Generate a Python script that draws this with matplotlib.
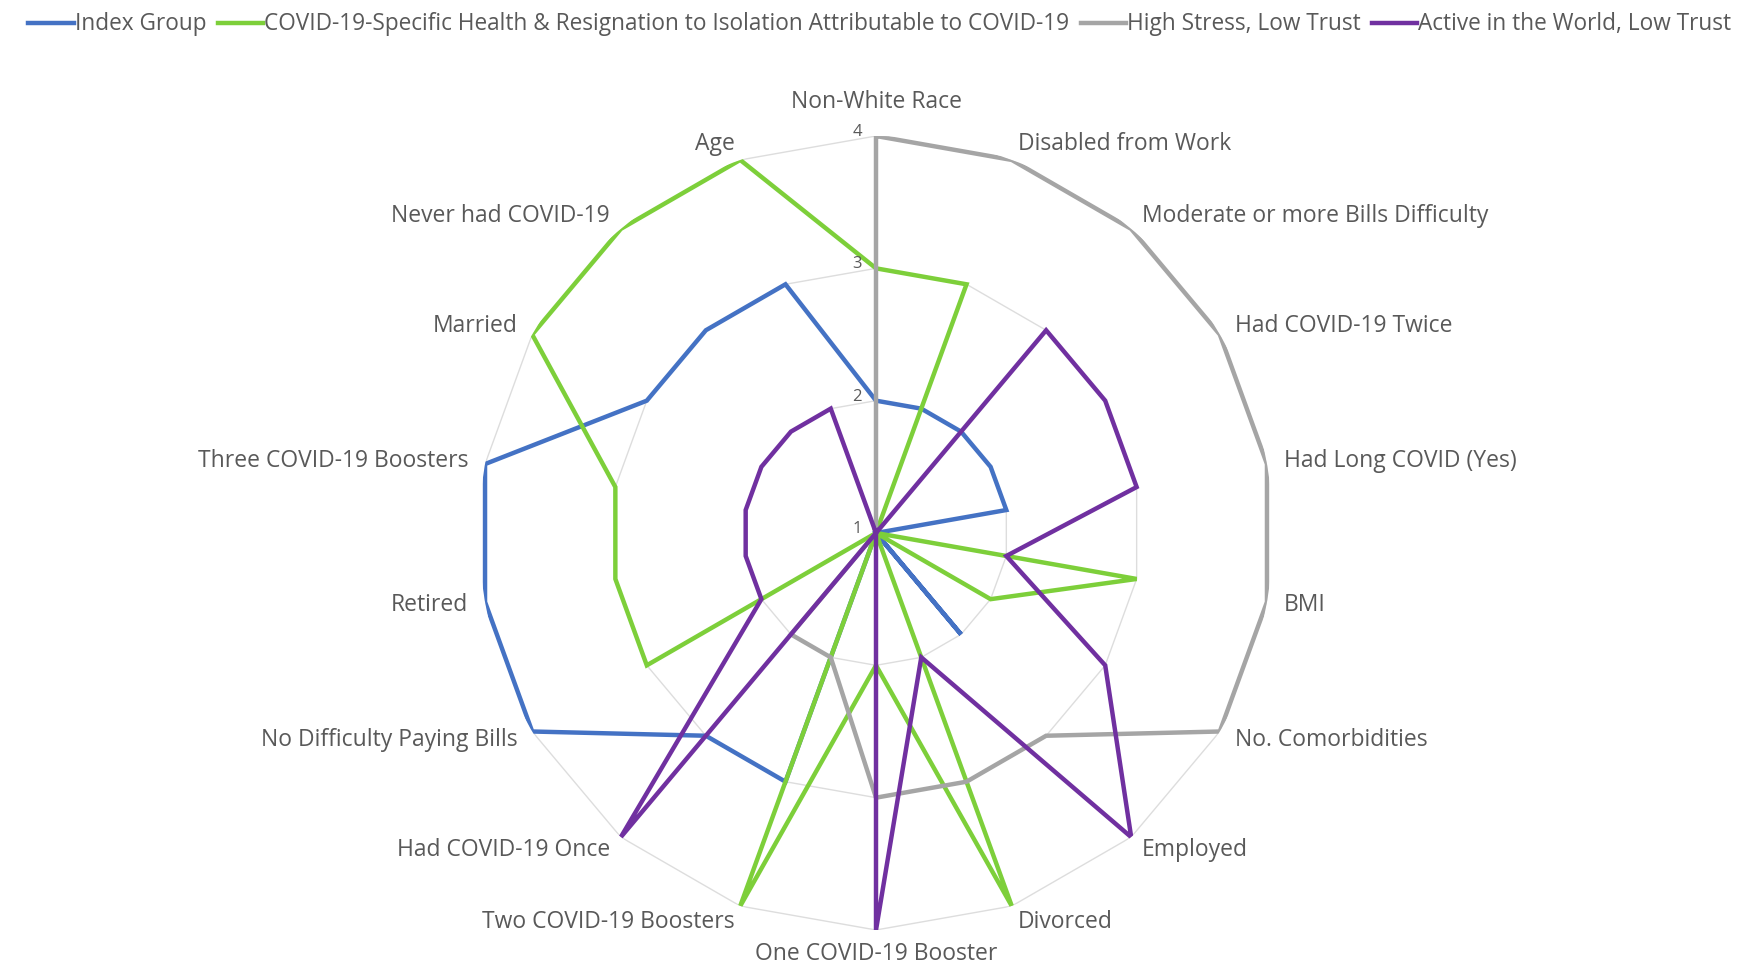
import numpy as np
import matplotlib
matplotlib.use("Agg")
import matplotlib.pyplot as plt
from matplotlib.lines import Line2D

categories = [
    "Non-White Race", "Disabled from Work", "Moderate or more Bills Difficulty",
    "Had COVID-19 Twice", "Had Long COVID (Yes)", "BMI", "No. Comorbidities",
    "Employed", "Divorced", "One COVID-19 Booster", "Two COVID-19 Boosters",
    "Had COVID-19 Once", "No Difficulty Paying Bills", "Retired",
    "Three COVID-19 Boosters", "Married", "Never had COVID-19", "Age",
]
series_names = [
    "Index Group",
    "COVID-19-Specific Health & Resignation to Isolation Attributable to COVID-19",
    "High Stress, Low Trust",
    "Active in the World, Low Trust",
]
index_group = [2, 2, 2, 2, 2, 1, 1, 2, 1, 1, 3, 3, 4, 4, 4, 3, 3, 3]
covid_specific = [3, 3, 1, 1, 1, 3, 2, 1, 4, 2, 4, 1, 3, 3, 3, 4, 4, 4]
high_stress = [4, 4, 4, 4, 4, 4, 4, 3, 3, 3, 2, 2, 1, 1, 1, 1, 1, 1]
active_world = [1, 1, 3, 3, 3, 2, 3, 4, 2, 4, 1, 4, 2, 2, 2, 2, 2, 2]
tick_values = [1, 2, 3, 4]

colors = ["#4472C4", "#7DCF3A", "#A5A5A5", "#7030A0"]
all_series = [index_group, covid_specific, high_stress, active_world]

plt.rcParams['font.family'] = ['Open Sans', 'DejaVu Sans']
text_color = "#595959"

W, H = 1760, 966
fig = plt.figure(figsize=(W / 100, H / 100), dpi=100)
cx, cy, R = 876, 533, 397
ax = fig.add_axes([(cx - R) / W, (H - cy - R) / H, 2 * R / W, 2 * R / H], projection='polar')
ax.set_theta_zero_location('N')
ax.set_theta_direction(-1)
ax.set_ylim(1, 4)
ax.set_rorigin(1)
ax.set_ylim(1, 4)
ax.axis('off')

n = len(categories)
angles = np.linspace(0, 2 * np.pi, n, endpoint=False)
closed = np.concatenate([angles, angles[:1]])

# polygon gridlines
for v in tick_values[1:]:
    ax.plot(closed, [v] * (n + 1), color="#DDDDDD", lw=1.0, zorder=1)

for vals, col, z in zip(all_series, colors, range(4)):
    ax.plot(closed, list(vals) + [vals[0]], color=col, lw=3.2, zorder=3 + z,
            solid_joinstyle='miter', solid_capstyle='butt')

# radial tick labels
for v in tick_values:
    ax.annotate(str(v), xy=(0, v), xytext=(-14, 4), textcoords='offset pixels',
                ha='right', va='center', fontsize=12, color=text_color, zorder=10)

# category labels
for ang, lab in zip(angles, categories):
    s, c = np.sin(ang), np.cos(ang)
    if abs(s) < 0.05:
        ha = 'center'
    elif s > 0:
        ha = 'left'
    else:
        ha = 'right'
    off = 17
    dx, dy = off * s, off * c
    if c > 0.99:
        dy = 34
    if c < -0.99:
        dy = -24
    ax.annotate(lab, xy=(ang, 4), xytext=(dx, dy), textcoords='offset pixels',
                ha=ha, va='center', fontsize=16.5, color=text_color, zorder=10,
                annotation_clip=False)

handles = [Line2D([0], [0], color=c, lw=3.2) for c in colors]
leg = fig.legend(handles, series_names, loc='upper center', bbox_to_anchor=(0.5, 1.0),
                 ncol=4, frameon=False, fontsize=16.3, handlelength=2.0,
                 handletextpad=0.05, columnspacing=0.5, labelcolor=text_color,
                 borderaxespad=0.15)

fig.savefig("out.png", dpi=100, facecolor="white")
